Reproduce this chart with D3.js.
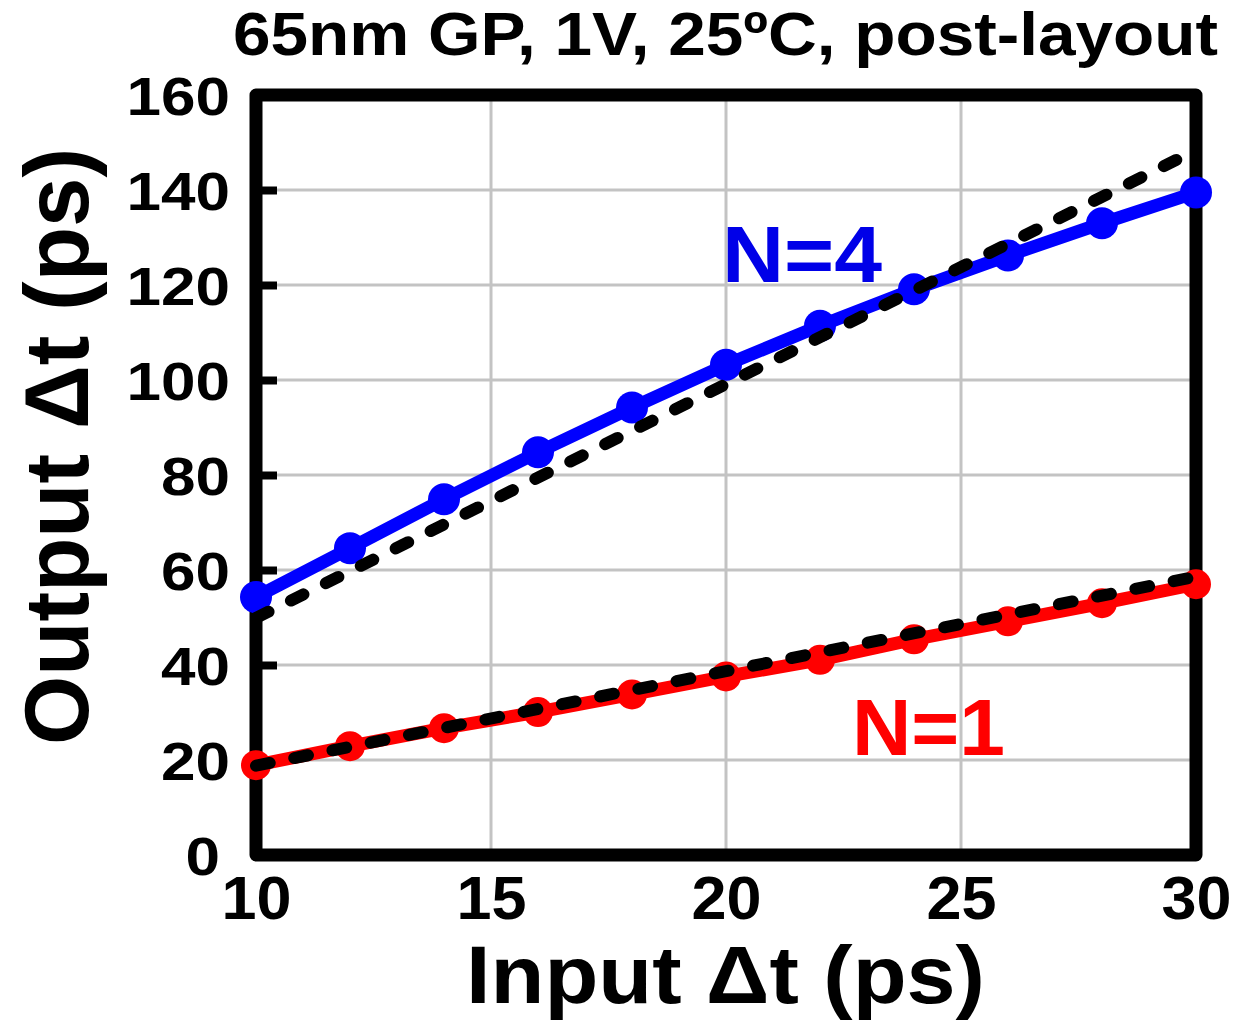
<!DOCTYPE html>
<html>
<head>
<meta charset="utf-8">
<script src="https://cdn.jsdelivr.net/npm/d3@7"></script>
<style>
html,body{margin:0;padding:0;background:#fff;}
svg{display:block;font-family:"Liberation Sans",Arial,Helvetica,sans-serif;font-weight:bold;}
</style>
</head>
<body>
<svg id="chart" width="1237" height="1027"></svg>
<script>
// ---- data ----
const inputDt = [10, 12, 14, 16, 18, 20, 22, 24, 26, 28, 30];
const outN4 = [54.3, 64.6, 74.9, 84.8, 94.2, 103.2, 111.4, 119.1, 126.2, 133.0, 139.5];
const outN1 = [18.9, 22.9, 26.7, 30.1, 33.8, 37.6, 41.1, 45.4, 49.2, 53.0, 57.0];
const fitN4X = [10, 30];
const fitN4Y = [49.9, 148.4];
const fitN1X = [10, 30];
const fitN1Y = [18.8, 58.6];
const xTicks = [10, 15, 20, 25, 30];
const yTicks = [0, 20, 40, 60, 80, 100, 120, 140, 160];
const titleText = "65nm GP, 1V, 25ºC, post-layout";
const xLabel = "Input Δt (ps)";
const yLabel = "Output Δt (ps)";
const seriesLabels = ["N=4", "N=1"];

// ---- layout ----
const svg = d3.select("#chart");
const L = 256, R = 1196, T = 95, B = 855;
const x = d3.scaleLinear().domain([10, 30]).range([L, R]);
const y = d3.scaleLinear().domain([0, 160]).range([B, T]);

// grid
const grid = svg.append("g");
grid.selectAll("line.gx").data(xTicks.slice(1, -1)).join("line")
  .attr("x1", d => x(d)).attr("x2", d => x(d)).attr("y1", T).attr("y2", B)
  .attr("stroke", "#c3c3c3").attr("stroke-width", 3);
grid.selectAll("line.gy").data(yTicks.slice(1, -1)).join("line")
  .attr("y1", d => y(d)).attr("y2", d => y(d)).attr("x1", L).attr("x2", R)
  .attr("stroke", "#c3c3c3").attr("stroke-width", 3);

// axes (ticks + labels)
const yAxis = d3.axisLeft(y).tickValues(yTicks).tickSize(-21).tickPadding(0).tickFormat(d3.format("d"));
const gy = svg.append("g").attr("transform", `translate(${L},0)`).call(yAxis);
gy.select(".domain").remove();
gy.selectAll(".tick line").attr("stroke", "#000").attr("stroke-width", 8)
  .filter(d => d === 0 || d === 160).remove();
gy.selectAll(".tick text")
  .attr("x", d => d === 0 ? -36 : -26)
  .attr("dy", "0.36em")
  .attr("fill", "#000")
  .style("font-size", "54px").style("font-weight", "bold")
  .style("font-family", "'Liberation Sans',Arial,sans-serif")
  .attr("text-anchor", "end")
  .attr("textLength", d => String(d).length * 34.5)
  .attr("lengthAdjust", "spacingAndGlyphs");

const xAxis = d3.axisBottom(x).tickValues(xTicks).tickSize(-6).tickPadding(0).tickFormat(d3.format("d"));
const gx = svg.append("g").attr("transform", `translate(0,${B})`).call(xAxis);
gx.select(".domain").remove();
gx.selectAll(".tick line").attr("stroke", "#000").attr("stroke-width", 3)
  .filter(d => d === 10 || d === 30).remove();
gx.selectAll(".tick text")
  .attr("y", 64).attr("dy", 0)
  .attr("fill", "#000")
  .style("font-size", "61px").style("font-weight", "bold")
  .style("font-family", "'Liberation Sans',Arial,sans-serif")
  .attr("textLength", 70).attr("lengthAdjust", "spacingAndGlyphs");

// frame
svg.append("rect").attr("x", L).attr("y", T).attr("width", R - L).attr("height", B - T)
  .attr("fill", "none").attr("stroke", "#000").attr("stroke-width", 13)
  .attr("stroke-linejoin", "round");

// series
const line = d3.line().x(d => x(d[0])).y(d => y(d[1]));
function drawSeries(vals, color, r) {
  const pts = inputDt.map((d, i) => [d, vals[i]]);
  svg.append("path").datum(pts).attr("d", line)
    .attr("fill", "none").attr("stroke", color).attr("stroke-width", 13)
    .attr("stroke-linejoin", "round");
  svg.append("g").selectAll("circle").data(pts).join("circle")
    .attr("cx", d => x(d[0])).attr("cy", d => y(d[1])).attr("r", r).attr("fill", color);
}
drawSeries(outN1, "#ff0000", 15);
drawSeries(outN4, "#0000ff", 16);

function drawFit(xs, ys) {
  const pts = xs.map((d, i) => [d, ys[i]]);
  svg.append("path").datum(pts).attr("d", line)
    .attr("fill", "none").attr("stroke", "#000").attr("stroke-width", 12)
    .attr("stroke-linecap", "round").attr("stroke-dasharray", "14 25");
}
drawFit(fitN4X, fitN4Y);
drawFit(fitN1X, fitN1Y);

// texts
svg.append("text").attr("x", 233).attr("y", 55).text(titleText)
  .style("font-size", "62px").attr("fill", "#000")
  .attr("textLength", 985).attr("lengthAdjust", "spacingAndGlyphs");

svg.append("text").attr("x", 466).attr("y", 1003).text(xLabel)
  .style("font-size", "81px").attr("fill", "#000")
  .attr("textLength", 519).attr("lengthAdjust", "spacingAndGlyphs");

svg.append("text").attr("transform", "translate(88,745) rotate(-90)").text(yLabel)
  .style("font-size", "91px").attr("fill", "#000")
  .attr("textLength", 597).attr("lengthAdjust", "spacingAndGlyphs");

svg.append("text").attr("x", 722).attr("y", 282).text(seriesLabels[0])
  .style("font-size", "80px").attr("fill", "#0000e8")
  .attr("textLength", 160).attr("lengthAdjust", "spacingAndGlyphs");
svg.append("text").attr("x", 852).attr("y", 755).text(seriesLabels[1])
  .style("font-size", "80px").attr("fill", "#ff0000")
  .attr("textLength", 153).attr("lengthAdjust", "spacingAndGlyphs");
</script>
</body>
</html>
